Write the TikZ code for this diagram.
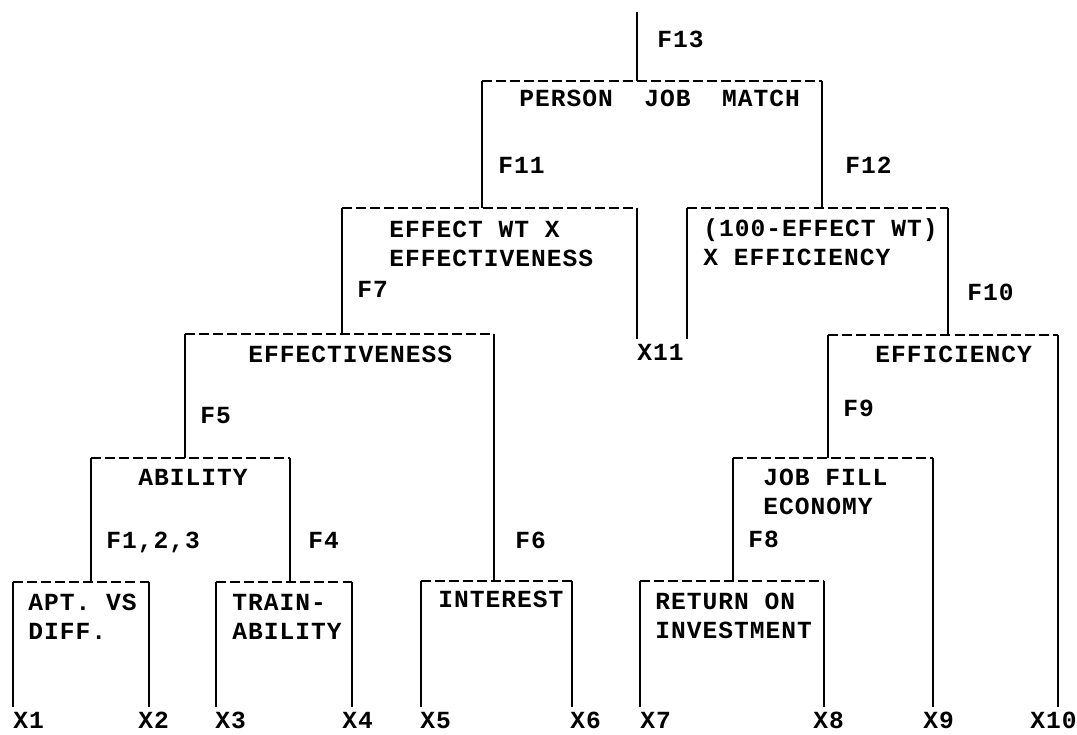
\documentclass[tikz,border=0pt]{standalone}
\usepackage{fontspec}
\newfontfamily\typewr[LetterSpace=4]{Liberation Mono}

\begin{document}
\begin{tikzpicture}[
        x=0.02cm, y=-0.02cm,
        lbl/.style={font=\typewr\bfseries\fontsize{14}{16.5}\selectfont, inner sep=0pt, anchor=base west, align=left},
        xlbl/.style={lbl, text height=0.42cm, text depth=0pt},
        boxtop/.style={line width=1.5pt, dash pattern=on 5.7pt off 2.3pt},
        stem/.style={line width=1.5pt}
        ]
        \useasboundingbox (0,0) rectangle (1077,734);

        % Box corners
        \coordinate (root) at (637,12);
        \coordinate (pjm-l) at (482,81);      \coordinate (pjm-r) at (822,81);
        \coordinate (ewx-l) at (342,208);     \coordinate (ewx-r) at (637,208);
        \coordinate (eff-l) at (687,208);     \coordinate (eff-r) at (948,208);
        \coordinate (effness-l) at (185,334); \coordinate (effness-r) at (494,334);
        \coordinate (effcy-l) at (828,335);   \coordinate (effcy-r) at (1058,335);
        \coordinate (abil-l) at (91,458);     \coordinate (abil-r) at (290,458);
        \coordinate (jfe-l) at (733,458);     \coordinate (jfe-r) at (933,458);
        \coordinate (apt-l) at (13,582);      \coordinate (apt-r) at (149,582);
        \coordinate (train-l) at (216,582);   \coordinate (train-r) at (352,582);
        \coordinate (inter-l) at (421,581);   \coordinate (inter-r) at (572,581);
        \coordinate (roi-l) at (640,581);     \coordinate (roi-r) at (824,581);

        % Box texts (two-line texts sit on their last line)
        \node[lbl] (pjm) at (519,106) {PERSON~~JOB~~MATCH};
        \node[lbl] (ewx) at (389,266) {EFFECT WT X\\EFFECTIVENESS};
        \node[lbl] (eff) at (703,265) {(100-EFFECT WT)\\X EFFICIENCY};
        \node[lbl] (effness) at (248,362) {EFFECTIVENESS};
        \node[lbl] (effcy) at (875,362) {EFFICIENCY};
        \node[lbl] (abil) at (138,485) {ABILITY};
        \node[lbl] (jfe) at (763,514) {JOB FILL\\ECONOMY};
        \node[lbl] (apt) at (28,639) {APT. VS\\DIFF.};
        \node[lbl] (train) at (232,639) {TRAIN-\\ABILITY};
        \node[lbl] (inter) at (438,607) {INTEREST};
        \node[lbl] (roi) at (655,638) {RETURN ON\\INVESTMENT};

        % Function labels
        \node[lbl] (f13) at (657,47) {F13};
        \node[lbl] (f11) at (498,173) {F11};
        \node[lbl] (f12) at (845,173) {F12};
        \node[lbl] (f7) at (357,297) {F7};
        \node[lbl] (f10) at (967,300) {F10};
        \node[lbl] (f5) at (200,423) {F5};
        \node[lbl] (f9) at (843,416) {F9};
        \node[lbl] (f123) at (106,548) {F1,2,3};
        \node[lbl] (f4) at (308,548) {F4};
        \node[lbl] (f6) at (515,548) {F6};
        \node[lbl] (f8) at (748,547) {F8};

        % Inputs
        \node[xlbl] (x11) at (637,360) {X11};
        \node[xlbl] (x1) at (13,728) {X1};
        \node[xlbl] (x2) at (138,728) {X2};
        \node[xlbl] (x3) at (215,728) {X3};
        \node[xlbl] (x4) at (342,728) {X4};
        \node[xlbl] (x5) at (420,728) {X5};
        \node[xlbl] (x6) at (570,728) {X6};
        \node[xlbl] (x7) at (640,728) {X7};
        \node[xlbl] (x8) at (813,728) {X8};
        \node[xlbl] (x9) at (923,728) {X9};
        \node[xlbl] (x10) at (1030,728) {X10};

        % Dashed tops
        \draw[boxtop] (pjm-l) -- (pjm-r);
        \draw[boxtop] (ewx-l) -- (ewx-r);
        \draw[boxtop] (eff-l) -- (eff-r);
        \draw[boxtop] (effness-l) -- (effness-r);
        \draw[boxtop] (effcy-l) -- (effcy-r);
        \draw[boxtop] (abil-l) -- (abil-r);
        \draw[boxtop] (jfe-l) -- (jfe-r);
        \draw[boxtop] (apt-l) -- (apt-r);
        \draw[boxtop] (train-l) -- (train-r);
        \draw[boxtop] (inter-l) -- (inter-r);
        \draw[boxtop] (roi-l) -- (roi-r);

        % Stems
        \draw[stem] (root) -- (root |- pjm-l);
        \draw[stem] (pjm-l) -- (pjm-l |- ewx-l);
        \draw[stem] (pjm-r) -- (pjm-r |- eff-l);
        \draw[stem] (ewx-l) -- (ewx-l |- effness-l);
        \draw[stem] (ewx-r) -- (ewx-r |- x11.north);
        \draw[stem] (eff-l) -- (eff-l |- x11.north);
        \draw[stem] (eff-r) -- (eff-r |- effcy-l);
        \draw[stem] (effness-l) -- (effness-l |- abil-l);
        \draw[stem] (effness-r) -- (effness-r |- inter-l);
        \draw[stem] (effcy-l) -- (effcy-l |- jfe-l);
        \draw[stem] (effcy-r) -- (effcy-r |- x10.north);
        \draw[stem] (abil-l) -- (abil-l |- apt-l);
        \draw[stem] (abil-r) -- (abil-r |- train-l);
        \draw[stem] (jfe-l) -- (jfe-l |- roi-l);
        \draw[stem] (jfe-r) -- (jfe-r |- x9.north);
        \draw[stem] (apt-l) -- (apt-l |- x1.north);
        \draw[stem] (apt-r) -- (apt-r |- x2.north);
        \draw[stem] (train-l) -- (train-l |- x3.north);
        \draw[stem] (train-r) -- (train-r |- x4.north);
        \draw[stem] (inter-l) -- (inter-l |- x5.north);
        \draw[stem] (inter-r) -- (inter-r |- x6.north);
        \draw[stem] (roi-l) -- (roi-l |- x7.north);
        \draw[stem] (roi-r) -- (roi-r |- x8.north);

    \end{tikzpicture}
\end{document}
